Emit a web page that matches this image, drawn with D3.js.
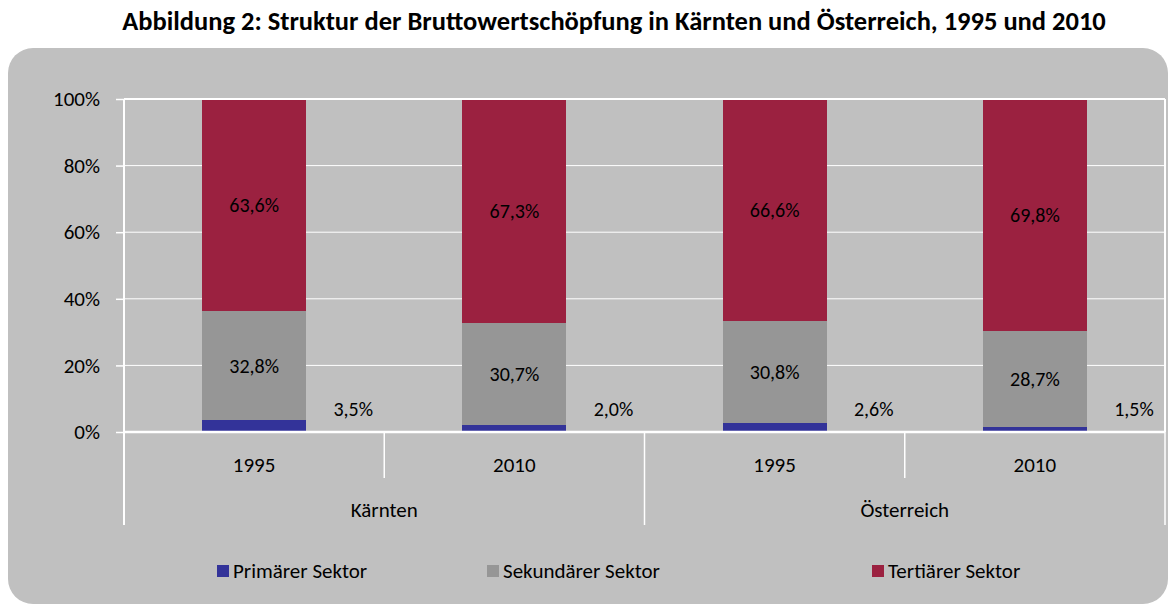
<!DOCTYPE html>
<html lang="de">
<head>
  <meta charset="UTF-8">
  <title>Struktur der Bruttowertschöpfung</title>
  <script src="https://cdnjs.cloudflare.com/ajax/libs/d3/7.8.5/d3.min.js"></script>
  <style>
    body {
      margin: 0;
      background: white;
    }
    svg {
      display: block;
      font-family: Carlito, Calibri, Lato, sans-serif;
    }
    .bar {
      shape-rendering: crispEdges;
    }
  </style>
</head>
<body>
  <script>
    var years = ["1995", "2010", "1995", "2010"];
    var regions = ["Kärnten", "Österreich"];
    var primaer = [3.5, 2.0, 2.6, 1.5];
    var sekundaer = [32.8, 30.7, 30.8, 28.7];
    var tertiaer = [63.6, 67.3, 66.6, 69.8];
    var yTicks = [0, 20, 40, 60, 80, 100];
    var seriesNames = ["Primärer Sektor", "Sekundärer Sektor", "Tertiärer Sektor"];
    var colors = ["#333399", "#969696", "#9b2140"];

    var w = 1176, h = 607;
    var plotLeft = 124, plotRight = 1165, plotTop = 99, plotBottom = 432;

    var rows = years.map(function(y, i) {
      var total = primaer[i] + sekundaer[i] + tertiaer[i];
      return {
        i: i,
        p: primaer[i] / total * 100,
        s: sekundaer[i] / total * 100,
        t: tertiaer[i] / total * 100,
        raw: [primaer[i], sekundaer[i], tertiaer[i]]
      };
    });

    var stack = d3.stack().keys(["p", "s", "t"]);
    var layers = stack(rows);

    var svg = d3.select("body").append("svg")
      .attr("width", w)
      .attr("height", h);

    svg.append("text")
      .attr("x", 614)
      .attr("y", 30)
      .attr("text-anchor", "middle")
      .style("font-weight", "bold")
      .style("font-size", "26.5px")
      .text("Abbildung 2: Struktur der Bruttowertschöpfung in Kärnten und Österreich, 1995 und 2010");

    svg.append("rect")
      .attr("x", 8)
      .attr("y", 48)
      .attr("width", 1160)
      .attr("height", 556)
      .attr("rx", 25)
      .attr("fill", "#c0c0c0");

    var x = d3.scaleBand()
      .domain(d3.range(years.length))
      .range([plotLeft, plotRight])
      .paddingInner(0.6)
      .paddingOuter(0.3);

    var xCat = d3.scaleBand()
      .domain(d3.range(years.length))
      .range([plotLeft, plotRight]);

    var y = d3.scaleLinear()
      .domain([0, 100])
      .range([plotBottom, plotTop]);

    // gridlines
    svg.selectAll(".grid")
      .data(yTicks)
      .enter()
      .append("line")
      .attr("x1", plotLeft)
      .attr("x2", plotRight)
      .attr("y1", function(d) { return y(d); })
      .attr("y2", function(d) { return y(d); })
      .attr("stroke", "white")
      .attr("stroke-width", 1);

    // y axis
    var yAxis = svg.append("g")
      .attr("transform", "translate(" + plotLeft + ",0)")
      .call(d3.axisLeft(y)
        .tickValues(yTicks)
        .tickSize(8)
        .tickPadding(16)
        .tickFormat(function(d) { return d + "%"; }));
    yAxis.select(".domain").remove();
    yAxis.selectAll(".tick line").attr("stroke", "white").attr("stroke-width", 1.5);
    yAxis.selectAll(".tick text")
      .attr("fill", "black")
      .style("font-size", "21px")
      .style("font-family", "Carlito, Calibri, Lato, sans-serif");

    // bars
    svg.selectAll(".layer")
      .data(layers)
      .enter()
      .append("g")
      .attr("fill", function(d, i) { return colors[i]; })
      .selectAll(".bar")
      .data(function(d) { return d; })
      .enter()
      .append("rect")
      .classed("bar", true)
      .attr("x", function(d, i) { return x(i); })
      .attr("width", x.bandwidth())
      .attr("y", function(d) { return y(d[1]); })
      .attr("height", function(d) { return y(d[0]) - y(d[1]); });

    // plot border
    svg.append("line")
      .attr("x1", plotLeft).attr("x2", plotRight)
      .attr("y1", plotTop).attr("y2", plotTop)
      .attr("stroke", "white").attr("stroke-width", 2);
    svg.append("line")
      .attr("x1", plotRight).attr("x2", plotRight)
      .attr("y1", plotTop).attr("y2", plotBottom)
      .attr("stroke", "white").attr("stroke-width", 2);
    svg.append("line")
      .attr("x1", plotLeft).attr("x2", plotLeft)
      .attr("y1", plotTop).attr("y2", 525)
      .attr("stroke", "white").attr("stroke-width", 2);
    svg.append("line")
      .attr("x1", plotLeft).attr("x2", plotRight)
      .attr("y1", plotBottom).attr("y2", plotBottom)
      .attr("stroke", "white").attr("stroke-width", 2.5);

    // category separators
    svg.selectAll(".sep")
      .data(d3.range(1, years.length + 1))
      .enter()
      .append("line")
      .attr("x1", function(d) { return xCat(d - 1) + xCat.bandwidth(); })
      .attr("x2", function(d) { return xCat(d - 1) + xCat.bandwidth(); })
      .attr("y1", plotBottom)
      .attr("y2", function(d) { return d % 2 === 0 ? 525 : 478; })
      .attr("stroke", "white")
      .attr("stroke-width", 1.5);

    // year labels
    svg.selectAll(".year")
      .data(years)
      .enter()
      .append("text")
      .attr("x", function(d, i) { return xCat(i) + xCat.bandwidth() / 2; })
      .attr("y", 472)
      .attr("text-anchor", "middle")
      .style("font-size", "21px")
      .text(function(d) { return d; });

    // region labels
    svg.selectAll(".region")
      .data(regions)
      .enter()
      .append("text")
      .attr("x", function(d, i) { return xCat(i * 2) + xCat.bandwidth(); })
      .attr("y", 517)
      .attr("text-anchor", "middle")
      .style("font-size", "21px")
      .text(function(d) { return d; });

    // value labels
    function fmt(v) {
      return d3.format(".1f")(v).replace(".", ",") + "%";
    }

    svg.selectAll(".lab-p")
      .data(rows)
      .enter()
      .append("text")
      .attr("x", function(d) { return x(d.i) + x.bandwidth() + 47; })
      .attr("y", 416)
      .attr("text-anchor", "middle")
      .style("font-size", "20px")
      .text(function(d) { return fmt(d.raw[0]); });

    [1, 2].forEach(function(k) {
      svg.selectAll(".lab-" + k)
        .data(layers[k])
        .enter()
        .append("text")
        .attr("x", function(d, i) { return x(i) + x.bandwidth() / 2; })
        .attr("y", function(d) { return y((d[0] + d[1]) / 2) + 7; })
        .attr("text-anchor", "middle")
        .style("font-size", "20px")
        .text(function(d, i) { return fmt(rows[i].raw[k]); });
    });

    // legend
    var legendX = [217, 487, 872];
    var legend = svg.selectAll(".legend")
      .data(seriesNames)
      .enter()
      .append("g")
      .attr("transform", function(d, i) { return "translate(" + legendX[i] + ",565)"; });
    legend.append("rect")
      .attr("width", 12)
      .attr("height", 12)
      .attr("fill", function(d, i) { return colors[i]; });
    legend.append("text")
      .attr("x", 16)
      .attr("y", 13)
      .style("font-size", "21px")
      .text(function(d) { return d; });
  </script>
</body>
</html>
